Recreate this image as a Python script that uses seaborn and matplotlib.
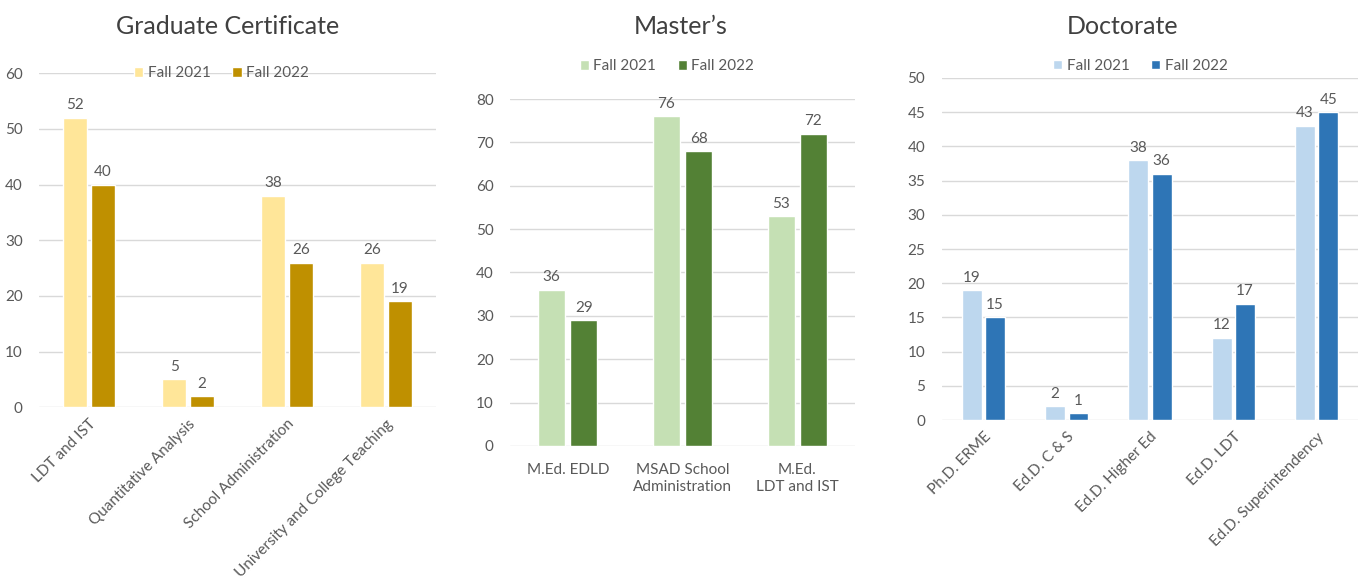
import pandas as pd
import seaborn as sns
import matplotlib.pyplot as plt

# data
years = ['Fall 2021', 'Fall 2022']

cert_programs = ['LDT and IST', 'Quantitative Analysis', 'School Administration',
                 'University and College Teaching']
cert_2021 = [52, 5, 38, 26]
cert_2022 = [40, 2, 26, 19]

master_programs = ['M.Ed. EDLD', 'MSAD School\nAdministration', 'M.Ed.\nLDT and IST']
master_2021 = [36, 76, 53]
master_2022 = [29, 68, 72]

doc_programs = ['Ph.D. ERME', 'Ed.D. C & S', 'Ed.D. Higher Ed', 'Ed.D. LDT',
                'Ed.D. Superintendency']
doc_2021 = [19, 2, 38, 12, 43]
doc_2022 = [15, 1, 36, 17, 45]


def to_long(programs, v1, v2):
    rows = []
    for p, a, b in zip(programs, v1, v2):
        rows.append({'program': p, 'year': years[0], 'count': a})
        rows.append({'program': p, 'year': years[1], 'count': b})
    return pd.DataFrame(rows)


sns.set_style('white')
plt.rcParams['font.family'] = ['Lato', 'DejaVu Sans']

text_gray = '#595959'
grid_gray = '#D9D9D9'

fig = plt.figure(figsize=(13.61, 5.86), dpi=100)

panels = [
    # title, programs, v1, v2, colors, rect, ymax, ystep, rotate, legend anchor, title x
    ('Graduate Certificate', cert_programs, cert_2021, cert_2022,
     ['#FFE699', '#BF9000'], [0.029, 0.305, 0.291, 0.570], 60, 10, True, (0.46, 1.0), 0.167),
    ('Master\u2019s', master_programs, master_2021, master_2022,
     ['#C5E0B4', '#538135'], [0.375, 0.239, 0.253, 0.592], 80, 10, False, (0.455, 1.095), 0.500),
    ('Doctorate', doc_programs, doc_2021, doc_2022,
     ['#BDD7EE', '#2E75B6'], [0.692, 0.283, 0.306, 0.584], 50, 5, True, (0.477, 1.035), 0.825),
]

for title, progs, v1, v2, cols, rect, ymax, ystep, rotate, leg_anchor, tx in panels:
    ax = fig.add_axes(rect)
    df = to_long(progs, v1, v2)
    sns.barplot(ax=ax, data=df, x='program', y='count', hue='year',
                palette=cols, width=0.56, gap=0.15, saturation=1)
    for c in ax.containers:
        ax.bar_label(c, padding=4, fontsize=11, color=text_gray)
    ax.set_ylim(0, ymax)
    ax.set_yticks(range(0, ymax + 1, ystep))
    ax.yaxis.grid(True, color=grid_gray, linewidth=1)
    ax.set_axisbelow(True)
    sns.despine(ax=ax, left=True, bottom=True, top=True, right=True)
    ax.tick_params(axis='both', length=0, labelsize=11, colors=text_gray)
    ax.tick_params(axis='y', pad=12)
    ax.set_xlabel('')
    ax.set_ylabel('')
    if rotate:
        ax.set_xticks(range(len(progs)))
        ax.set_xticklabels(progs, rotation=45, ha='right', rotation_mode='anchor')
        ax.tick_params(axis='x', pad=7)
    else:
        ax.set_xticks(range(len(progs)))
        ax.set_xticklabels(progs, linespacing=1.35)
        ax.tick_params(axis='x', pad=12)
    ax.legend(loc='center', bbox_to_anchor=leg_anchor, ncol=2, frameon=False,
              fontsize=11, labelcolor=text_gray, handlelength=0.6, handleheight=0.6,
              columnspacing=1.4, handletextpad=0.3)
    fig.text(tx, 0.955, title, ha='center', va='center', fontsize=18, color='#404040')

fig.savefig('out.png', dpi=100)
